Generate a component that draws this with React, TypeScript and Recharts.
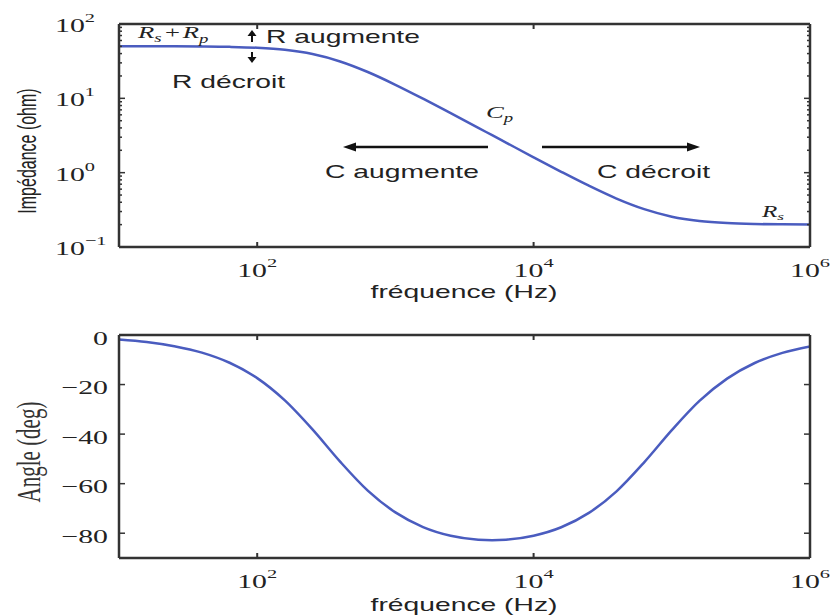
import React from "react";
import { LineChart, Line, XAxis, YAxis } from "recharts";

// every 0.2 decade from 10 Hz to 1 MHz (plus the phase minimum)
const freqHz = [
  10, 15.85, 25.12, 39.81, 63.1, 100, 158.5, 251.2, 398.1, 631, 1000, 1585, 2512,
  3981, 5012, 6310, 10000, 15850, 25120, 39810, 63100, 100000, 158500, 251200, 398100,
  631000, 1000000,
];
const impedanceOhm = [
  50.18, 50.14, 50.05, 49.81, 49.24, 47.89, 44.94, 39.41, 31.35, 22.61, 15.23, 9.89,
  6.31, 4.01, 3.19, 2.54, 1.61, 1.028, 0.667, 0.448, 0.323, 0.256, 0.224, 0.21, 0.204,
  0.2016, 0.2006,
];
const angleDeg = [
  -1.8, -2.8, -4.5, -7.1, -11.2, -17.4, -26.4, -38.1, -51.1, -62.8, -71.6, -77.5,
  -81.0, -82.6, -82.8, -82.6, -81.0, -77.6, -71.8, -63.1, -51.4, -38.4, -26.6, -17.6,
  -11.3, -7.2, -4.6,
];

const freqTicks = [100, 10000, 1000000];
const impedanceTicks = [
  0.1, 0.2, 0.3, 0.4, 0.5, 0.6, 0.7, 0.8, 0.9, 1, 2, 3, 4, 5, 6, 7, 8, 9, 10, 20, 30,
  40, 50, 60, 70, 80, 90, 100,
];
const angleTicks = [0, -20, -40, -60, -80];

const data = freqHz.map((f, i) => ({ f, z: impedanceOhm[i], a: angleDeg[i] }));

const SANS = "'Liberation Sans', Arial, sans-serif";
const SERIF = "'Liberation Serif', 'Times New Roman', serif";
const INK = "#222";
const FRAME = "#333";
const BLUE = "#4a5cbf";
const SX = 1.57; // the picture is stretched sideways

const axisLine = { stroke: FRAME, strokeWidth: 2.5 };

function isDecade(v: number) {
  const l = Math.log10(v);
  return Math.abs(l - Math.round(l)) < 1e-6;
}

function expText(v: number) {
  const e = Math.round(Math.log10(v));
  return e < 0 ? `\u2212${-e}` : `${e}`;
}

function SText({ x, y, size = 18, family = SANS, anchor = "start", italic = false, rotate = false, fill = INK, children }: any) {
  return (
    <text
      transform={`translate(${x},${y}) scale(${SX},1)${rotate ? " rotate(-90)" : ""}`}
      fontFamily={family}
      fontSize={size}
      fontStyle={italic ? "italic" : "normal"}
      textAnchor={anchor}
      fill={fill}
    >
      {children}
    </text>
  );
}

function PowLabel({ x, y, v, anchor }: any) {
  return (
    <SText x={x} y={y} size={19} family={SERIF} anchor={anchor}>
      10
      <tspan dy={-10} fontSize={13}>
        {expText(v)}
      </tspan>
    </SText>
  );
}

const bottomFreqTick = (p: any) => (
  <g>
    <line x1={p.x} y1={p.y} x2={p.x} y2={p.y - 5} stroke={FRAME} strokeWidth={2} />
    <PowLabel x={p.x} y={p.y + 30} v={p.payload.value} anchor="middle" />
  </g>
);

const topFreqTick = (p: any) => (
  <line x1={p.x} y1={p.y} x2={p.x} y2={p.y + 5} stroke={FRAME} strokeWidth={2} />
);

const leftLogTick = (p: any) => {
  const v = p.payload.value;
  const major = isDecade(v);
  return (
    <g>
      <line x1={p.x} y1={p.y} x2={p.x + (major ? 6 : 3)} y2={p.y} stroke={FRAME} strokeWidth={1.5} />
      {major && <PowLabel x={p.x - 64} y={p.y + 8} v={v} anchor="start" />}
    </g>
  );
};

const rightLogTick = (p: any) => {
  const major = isDecade(p.payload.value);
  return <line x1={p.x} y1={p.y} x2={p.x - (major ? 6 : 3)} y2={p.y} stroke={FRAME} strokeWidth={1.5} />;
};

const leftAngleTick = (p: any) => {
  const v = p.payload.value;
  return (
    <g>
      <line x1={p.x} y1={p.y} x2={p.x + 6} y2={p.y} stroke={FRAME} strokeWidth={1.5} />
      <SText x={p.x - 11} y={p.y + 9.5} size={19} family={SERIF} anchor="end">
        {v < 0 ? `\u2212${-v}` : `${v}`}
      </SText>
    </g>
  );
};

const rightAngleTick = (p: any) => (
  <line x1={p.x} y1={p.y} x2={p.x - 6} y2={p.y} stroke={FRAME} strokeWidth={1.5} />
);

function FreqAxes() {
  return [
    <XAxis
      key="xb"
      xAxisId="b"
      dataKey="f"
      type="number"
      scale="log"
      domain={[10, 1000000]}
      ticks={freqTicks}
      interval={0}
      orientation="bottom"
      height={30}
      tickSize={0}
      tickMargin={0}
      axisLine={axisLine}
      tickLine={false}
      tick={bottomFreqTick}
      allowDataOverflow
    />,
    <XAxis
      key="xt"
      xAxisId="t"
      dataKey="f"
      type="number"
      scale="log"
      domain={[10, 1000000]}
      ticks={freqTicks}
      interval={0}
      orientation="top"
      height={20}
      tickSize={0}
      tickMargin={0}
      axisLine={axisLine}
      tickLine={false}
      tick={topFreqTick}
      allowDataOverflow
    />,
  ];
}

function Arrow({ x1, x2, y }: any) {
  const dir = x2 > x1 ? 1 : -1;
  const hx = x2 - dir * 13;
  return (
    <g>
      <line x1={x1} y1={y} x2={hx} y2={y} stroke="#111" strokeWidth={2.5} />
      <polygon points={`${x2},${y} ${hx},${y - 4.5} ${hx},${y + 4.5}`} fill="#111" />
    </g>
  );
}

function Annotations() {
  return (
    <svg
      width={835}
      height={616}
      style={{ position: "absolute", left: 0, top: 0, pointerEvents: "none" }}
    >
      {/* axis titles */}
      <SText x={36} y={151} size={16} anchor="middle" rotate>
        Impédance (ohm)
      </SText>
      <SText x={40} y={452} size={21} family={SERIF} anchor="middle" rotate fill="#333">
        Angle (deg)
      </SText>
      <SText x={464} y={298} anchor="middle">
        fréquence (Hz)
      </SText>
      <SText x={464} y={611} anchor="middle">
        fréquence (Hz)
      </SText>

      {/* magnitude notes */}
      <SText x={138} y={38} size={17} family={SERIF} italic>
        R<tspan dy={4} fontSize={12}>s</tspan>
        <tspan dy={-4} dx={1}>+</tspan>
        <tspan dx={1}>R</tspan>
        <tspan dy={5} fontSize={12}>p</tspan>
      </SText>
      <line x1={252} y1={42} x2={252} y2={35} stroke="#111" strokeWidth={2} />
      <polygon points="252,30 247.5,36 256.5,36" fill="#111" />
      <line x1={252} y1={52} x2={252} y2={58} stroke="#111" strokeWidth={2} />
      <polygon points="252,63 247.5,57 256.5,57" fill="#111" />
      <SText x={266} y={43}>R augmente</SText>
      <SText x={172} y={88}>R décroit</SText>

      <SText x={486} y={118} size={17} family={SERIF} italic>
        C<tspan dy={4} fontSize={12}>p</tspan>
      </SText>
      <Arrow x1={488} x2={343} y={147} />
      <Arrow x1={542} x2={700} y={147} />
      <SText x={325} y={178}>C augmente</SText>
      <SText x={597} y={178}>C décroit</SText>

      <SText x={762} y={217} size={16} family={SERIF} italic>
        R<tspan dy={3} fontSize={11}>s</tspan>
      </SText>
    </svg>
  );
}

export default function App() {
  return (
    <div
      style={{
        position: "absolute",
        left: 0,
        top: 0,
        width: 835,
        height: 616,
        background: "#fff",
        overflow: "hidden",
      }}
    >
      <div style={{ position: "absolute", left: 0, top: 0 }}>
        <LineChart width={835} height={300} data={data} margin={{ top: 4, right: 5, bottom: 23, left: 59 }}>
          {FreqAxes()}
          <YAxis
            yAxisId="l"
            type="number"
            scale="log"
            domain={[0.1, 100]}
            ticks={impedanceTicks}
            interval={0}
            width={60}
            tickSize={0}
            tickMargin={0}
            axisLine={axisLine}
            tickLine={false}
            tick={leftLogTick}
            allowDataOverflow
          />
          <YAxis
            yAxisId="r"
            orientation="right"
            type="number"
            scale="log"
            domain={[0.1, 100]}
            ticks={impedanceTicks}
            interval={0}
            width={20}
            tickSize={0}
            tickMargin={0}
            axisLine={axisLine}
            tickLine={false}
            tick={rightLogTick}
            allowDataOverflow
          />
          <Line
            xAxisId="b"
            yAxisId="l"
            dataKey="z"
            type="monotone"
            stroke={BLUE}
            strokeWidth={2.5}
            dot={false}
            isAnimationActive={false}
          />
        </LineChart>
      </div>

      <div style={{ position: "absolute", left: 0, top: 300 }}>
        <LineChart width={835} height={316} data={data} margin={{ top: 15, right: 5, bottom: 28, left: 59 }}>
          {FreqAxes()}
          <YAxis
            yAxisId="l"
            type="number"
            domain={[-90, 0]}
            ticks={angleTicks}
            interval={0}
            width={60}
            tickSize={0}
            tickMargin={0}
            axisLine={axisLine}
            tickLine={false}
            tick={leftAngleTick}
            allowDataOverflow
          />
          <YAxis
            yAxisId="r"
            orientation="right"
            type="number"
            domain={[-90, 0]}
            ticks={angleTicks}
            interval={0}
            width={20}
            tickSize={0}
            tickMargin={0}
            axisLine={axisLine}
            tickLine={false}
            tick={rightAngleTick}
            allowDataOverflow
          />
          <Line
            xAxisId="b"
            yAxisId="l"
            dataKey="a"
            type="monotone"
            stroke={BLUE}
            strokeWidth={2.5}
            dot={false}
            isAnimationActive={false}
          />
        </LineChart>
      </div>

      <Annotations />
    </div>
  );
}
